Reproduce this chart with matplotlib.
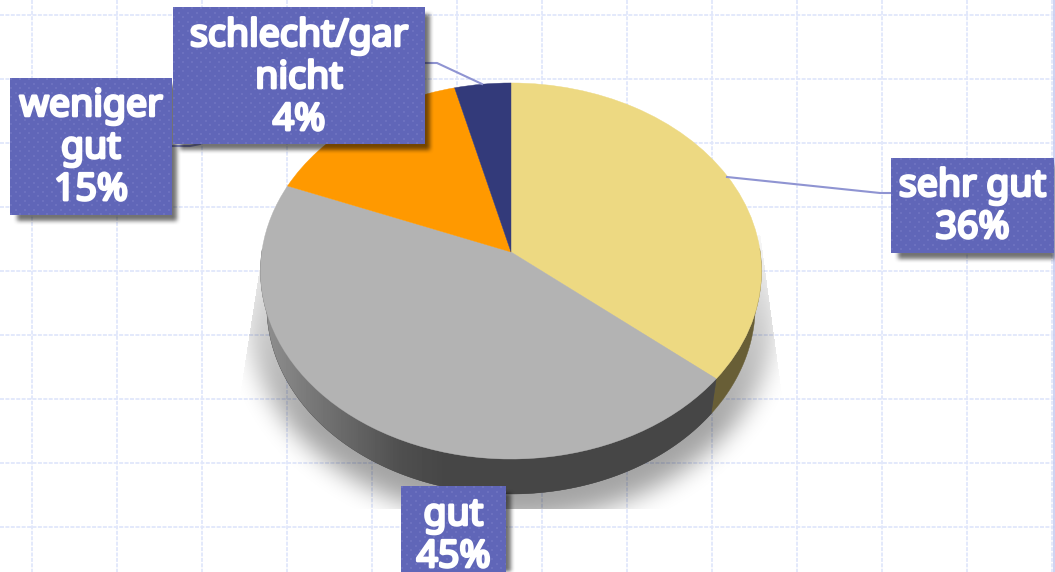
import numpy as np
import matplotlib
matplotlib.use("Agg")
import matplotlib.pyplot as plt
import matplotlib.patheffects as pe
from matplotlib.patches import Polygon
from matplotlib.transforms import Transform

categories = ["sehr gut", "gut", "weniger\ngut", "schlecht/gar\nnicht"]
percent = [36, 45, 15, 4]
face_colors = ["#EDD982", "#B3B3B3", "#FF9900", "#333A7A"]
wall_colors = ["#685E36", "#464646", "#8A5400", "#1F2349"]

W, H = 1055, 572
fig = plt.figure(figsize=(W / 100, H / 100), dpi=100, facecolor="white")
ax = fig.add_axes([0, 0, 1, 1])


class Perspective(Transform):
    """Tilted disc: unit circle -> pixel ellipse, the centre being off the ellipse centre."""
    input_dims = output_dims = 2
    has_inverse = False
    is_separable = False

    def __init__(self, dy=0.0, xscale=1.0):
        super().__init__()
        self.dy, self.xscale = dy, xscale

    def transform_non_affine(self, v):
        v = np.asarray(v, float)
        k, a, b = 0.101, 249.2, 186.1
        d = 1 + k * v[:, 1]
        return np.column_stack((511 + self.xscale * a * v[:, 0] / d,
                                252 + self.dy - b * v[:, 1] / d))


def blur(arr, r, passes=3):
    kernel = np.ones(2 * r + 1) / (2 * r + 1)
    for _ in range(passes):
        arr = np.apply_along_axis(lambda m: np.convolve(m, kernel, mode="same"), 0, arr)
        arr = np.apply_along_axis(lambda m: np.convolve(m, kernel, mode="same"), 1, arr)
    return arr


def alpha_layer(alpha, zorder):
    rgba = np.zeros((H, W, 4))
    rgba[..., 3] = alpha
    ax.imshow(rgba, extent=(0, W, H, 0), aspect="auto", zorder=zorder, interpolation="bilinear")


# background grid
grid_color = "#E1E7FB"
for x in range(32, W, 85):
    ax.plot([x, x], [0, H], color=grid_color, lw=1.3, ls=(0, (2.2, 0.8)), zorder=1)
for y in range(15, H, 64):
    ax.plot([0, W], [y, y], color=grid_color, lw=1.3, ls=(0, (2.2, 0.8)), zorder=1)
ax.plot([1054, 1054], [0, H], color="#C6CCF0", lw=1.2, zorder=1)

# soft shadow of the disc, cut off by a trapezoid as in the original
yy, xx = np.mgrid[0:H, 0:W]
ell = (((xx - 511) / 264.0) ** 2 + ((yy - 312) / 208.0) ** 2 < 1).astype(float)
ramp = np.clip((yy - 235) / 190.0, 0, 1) * 0.8 + 0.2
sh = blur(ell, 11) * 0.36 * ramp
sh[yy > 508] = 0
sh[yy < 235] = 0
sh[xx < 262 - (yy - 250) * 0.155] = 0
sh[xx > 762 + (yy - 250) * 0.135] = 0
alpha_layer(sh, 2)

# pie top face
wedges, _ = ax.pie(percent, colors=face_colors, startangle=90, counterclock=False, radius=1,
                   wedgeprops=dict(linewidth=0.3))
top = Perspective()
low = Perspective(dy=35, xscale=0.975)

# side walls: only the front of the rim shows
for wedge, col in zip(wedges, wall_colors):
    t = np.radians(np.linspace(wedge.theta1, wedge.theta2, 300))
    unit = np.column_stack((np.cos(t), np.sin(t)))
    unit = unit[unit[:, 1] < 0.02]
    if len(unit) < 2:
        continue
    verts = np.vstack((top.transform(unit), low.transform(unit)[::-1]))
    poly = Polygon(verts, closed=True, facecolor=col, edgecolor=col, lw=0.3, zorder=3)
    ax.add_patch(poly)
    if col == "#464646":
        stops_x = [255, 265, 300, 350, 400, 445, 800]
        stops_v = [0.56, 0.56, 0.49, 0.40, 0.31, 0.275, 0.275]
        g = np.interp(np.arange(W), stops_x, stops_v)
        img = ax.imshow(np.tile(g, (H, 1)), cmap="gray", vmin=0, vmax=1,
                        extent=(0, W, H, 0), aspect="auto", zorder=3.1)
        img.set_clip_path(poly)

for wedge in wedges:
    wedge.set_edgecolor(wedge.get_facecolor())
    wedge.set_transform(top + ax.transData)
    wedge.set_zorder(4)

# leader lines
line_color = "#8F94D2"
ax.plot([727, 880, 891], [177, 193, 193], color=line_color, lw=1.5, zorder=5)
ax.plot([425, 437, 482], [63, 63, 84], color=line_color, lw=1.5, zorder=5)
ax.plot([172, 190, 200], [146, 146, 144], color=line_color, lw=1.5, zorder=5)

# label boxes: left, top, right, bottom
boxes = [(891, 158, 1054, 253), (401, 486, 506, 610), (10, 78, 172, 215), (173, 7, 425, 144)]
text_y = [207, 536, 148, 78]

base = np.array(matplotlib.colors.to_rgb("#6066B8"))
dot = np.array(matplotlib.colors.to_rgb("#6C71BF"))
for i in [0, 1, 2, 3]:
    l, t, r, b = boxes[i]
    mask = np.zeros((H, W))
    mask[max(t + 7, 0):min(b + 6, H), l + 7:min(r + 5, W)] = 1
    alpha_layer(blur(mask, 2, 2) * 0.55, 6 + i)
    ny, nx = b - t, r - l
    py, px = np.mgrid[0:ny, 0:nx]
    on = ((py % 9 < 2) & (px % 9 < 2)) | (((py + 4) % 9 < 2) & ((px + 4) % 9 < 2))
    tile = np.where(on[..., None], dot, base)
    ax.imshow(tile, extent=(l, r, b, t), aspect="auto", interpolation="nearest", zorder=6.5 + i)
    txt = ax.text((l + r) / 2, text_y[i], f"{categories[i]}\n{percent[i]}%",
                  color="white", fontsize=27, family="Noto Sans",
                  ha="center", va="center", linespacing=1.14, zorder=6.7 + i)
    txt.set_path_effects([pe.withStroke(linewidth=2.0, foreground="white")])

ax.set_xlim(0, W)
ax.set_ylim(H, 0)
ax.set_aspect("auto")
ax.set_axis_off()
fig.savefig("out.png", dpi=100, facecolor="white")
